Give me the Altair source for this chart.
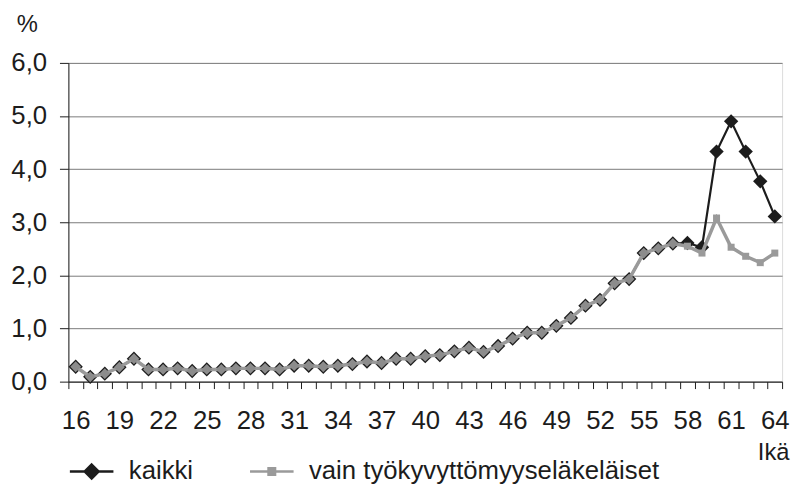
import altair as alt
import pandas as pd

ages = list(range(16, 65))
kaikki = [0.28, 0.09, 0.15, 0.27, 0.43, 0.23, 0.23, 0.25, 0.20, 0.23,
          0.23, 0.25, 0.25, 0.25, 0.23, 0.30, 0.30, 0.28, 0.30, 0.33,
          0.38, 0.35, 0.43, 0.43, 0.48, 0.50, 0.57, 0.64, 0.56, 0.67,
          0.81, 0.92, 0.92, 1.05, 1.20, 1.43, 1.54, 1.85, 1.93, 2.42,
          2.51, 2.60, 2.61, 2.53, 4.33, 4.90, 4.33, 3.77, 3.11]
vain = [0.28, 0.09, 0.15, 0.27, 0.43, 0.23, 0.23, 0.25, 0.20, 0.23,
        0.23, 0.25, 0.25, 0.25, 0.23, 0.30, 0.30, 0.28, 0.30, 0.33,
        0.38, 0.35, 0.43, 0.43, 0.48, 0.50, 0.57, 0.64, 0.56, 0.67,
        0.81, 0.92, 0.92, 1.05, 1.20, 1.43, 1.54, 1.85, 1.93, 2.42,
        2.51, 2.60, 2.55, 2.42, 3.08, 2.53, 2.36, 2.24, 2.42]
series_names = ["kaikki", "vain työkyvyttömyyseläkeläiset"]
y_ticks = [0, 1, 2, 3, 4, 5, 6]

df = pd.DataFrame({"age": ages, "kaikki": kaikki, "vain": vain})
df["same"] = (df["kaikki"] - df["vain"]).abs() < 0.005
legend_df = pd.DataFrame({"sarja": series_names})

tick_vals = [a - 0.5 for a in ages] + [ages[-1] + 0.5]
x0 = ages[0] - 0.5

FONT = "Liberation Sans"
BLACK = "#1c1c1c"
GRAY = "#9a9a9a"
GRAYD = "#8c8c8c"

W, H = 721, 322
FS = 26

x_axis = alt.Axis(
    values=tick_vals,
    labelExpr=f"(datum.value - {x0}) % 3 == 0 ? toString(datum.value + 0.5) : ''",
    labelOffset=W / len(ages) / 2,
    labelOverlap=False, labelBound=False, labelFlush=False,
    grid=False, tickSize=7, tickColor=BLACK, domainColor=BLACK,
    labelPadding=19, labelFontSize=FS, labelFont=FONT, labelColor=BLACK,
    title="Ikä", titleX=728, titleY=72, titleAlign="right", titleBaseline="middle",
    titleFontSize=24, titleFontWeight="normal", titleFont=FONT, titleColor=BLACK,
)
y_axis = alt.Axis(
    values=y_ticks,
    labelExpr="replace(format(datum.value, '.1f'), '.', ',')",
    grid=True, gridColor="#7a7a7a", gridWidth=1,
    tickSize=9, tickColor=BLACK, domainColor=BLACK,
    labelPadding=13, labelFontSize=FS, labelFont=FONT, labelColor=BLACK,
    title="%", titleAngle=0, titleX=-42, titleY=-39, titleAlign="center",
    titleBaseline="middle", titleFontSize=24, titleFontWeight="normal",
    titleFont=FONT, titleColor=BLACK,
)

xs = alt.Scale(domain=[x0, ages[-1] + 0.5], nice=False, zero=False)
ys = alt.Scale(domain=[0, 6], nice=False)

base = alt.Chart(df)
X = alt.X("age:Q", scale=xs, axis=x_axis)

k_line = base.mark_line(color=BLACK, strokeWidth=2.2).encode(
    x=X, y=alt.Y("kaikki:Q", scale=ys, axis=y_axis))
k_pts = base.mark_point(shape="diamond", filled=True, size=210, color=BLACK, opacity=1).encode(
    x=X, y=alt.Y("kaikki:Q", scale=ys, axis=y_axis))
v_line = base.mark_line(color=GRAY, strokeWidth=3.5).encode(
    x=X, y=alt.Y("vain:Q", scale=ys, axis=y_axis))
v_dia = base.transform_filter("datum.same").mark_point(
    shape="diamond", filled=True, size=120, color=GRAYD, opacity=1).encode(
    x=X, y=alt.Y("vain:Q", scale=ys, axis=y_axis))
v_sq = base.transform_filter("!datum.same").mark_point(
    shape="square", filled=True, size=50, color=GRAY, opacity=1).encode(
    x=X, y=alt.Y("vain:Q", scale=ys, axis=y_axis))

leg = alt.Legend(
    orient="none", legendX=0, legendY=389, direction="horizontal", title=None,
    symbolOpacity=1, symbolStrokeWidth=2.5, symbolSize=1936,
    labelFontSize=FS, labelFont=FONT, labelColor=BLACK, labelOffset=14,
    columnPadding=51, labelLimit=600,
)
legend_layer = alt.Chart(legend_df).transform_filter("false").mark_point(filled=True).encode(
    fill=alt.Fill("sarja:N", scale=alt.Scale(domain=series_names, range=[BLACK, GRAY]), legend=leg),
    stroke=alt.Stroke("sarja:N", scale=alt.Scale(domain=series_names, range=[BLACK, GRAY]), legend=leg),
    shape=alt.Shape("sarja:N", scale=alt.Scale(
        domain=series_names,
        range=["M-1,0H1M0,-0.32L0.32,0L0,0.32L-0.32,0Z",
               "M-1,0H1M-0.15,-0.15H0.15V0.15H-0.15Z"]), legend=leg),
)

chart = alt.layer(k_line, k_pts, v_line, v_dia, v_sq, legend_layer).properties(
    width=W, height=H,
    autosize=alt.AutoSizeParams(type="none"),
    padding={"left": 61, "top": 53, "right": 9, "bottom": 106},
    background="white",
).configure_view(stroke="#7a7a7a", strokeWidth=1).configure(font=FONT)

chart.save("out.html", embed_options={"renderer": "svg", "actions": False})
